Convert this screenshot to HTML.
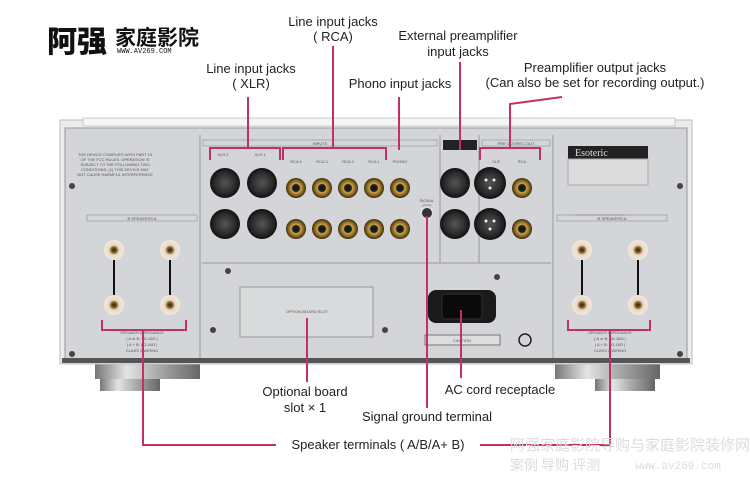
<!DOCTYPE html>
<html><head><meta charset="utf-8"><style>
html,body{margin:0;padding:0;background:#fff;}
svg{display:block}
.t{font-family:"Liberation Sans Narrow","Liberation Sans",sans-serif;font-size:13px;fill:#222;text-anchor:middle}
.s{font-family:"Liberation Sans",sans-serif;font-size:4px;fill:#555;text-anchor:middle}
.m{stroke:#c2306c;stroke-width:2;fill:none}
</style></head><body>
<svg width="750" height="496" viewBox="0 0 750 496" xmlns="http://www.w3.org/2000/svg">
<defs>
<radialGradient id="gold"><stop offset="0" stop-color="#111"/><stop offset="0.35" stop-color="#222"/><stop offset="0.45" stop-color="#c9a44a"/><stop offset="0.8" stop-color="#7a5a1a"/><stop offset="1" stop-color="#3a2a10"/></radialGradient>
<radialGradient id="xlr"><stop offset="0" stop-color="#555"/><stop offset="0.7" stop-color="#2a2a2a"/><stop offset="1" stop-color="#111"/></radialGradient>
<radialGradient id="spk"><stop offset="0" stop-color="#2a1a08"/><stop offset="0.3" stop-color="#8a6a30"/><stop offset="0.5" stop-color="#e8d8c4"/><stop offset="1" stop-color="#f4e8dc"/></radialGradient>
<linearGradient id="foot" x1="0" x2="1"><stop offset="0" stop-color="#777"/><stop offset="0.3" stop-color="#e4e4e4"/><stop offset="0.6" stop-color="#aaa"/><stop offset="1" stop-color="#666"/></linearGradient>
</defs>
<text x="47" y="52" font-family="'Noto Sans CJK SC',sans-serif" font-size="30" font-weight="900" fill="#111">阿强</text>
<text x="115" y="45" font-family="'Noto Sans CJK SC',sans-serif" font-size="21" font-weight="700" fill="#111">家庭影院</text>
<text x="117" y="53" font-family="'Liberation Mono',monospace" font-size="7" fill="#111">WWW.AV269.COM</text>
<rect x="95" y="363" width="105" height="16" fill="url(#foot)"/>
<rect x="100" y="379" width="60" height="12" fill="url(#foot)"/>
<rect x="555" y="363" width="105" height="16" fill="url(#foot)"/>
<rect x="595" y="379" width="60" height="12" fill="url(#foot)"/>
<rect x="60" y="120" width="632" height="244" fill="#ececee" stroke="#bbb"/>
<rect x="83" y="118" width="592" height="8" fill="#f5f5f6" stroke="#ccc"/>
<rect x="65" y="128" width="622" height="232" fill="#d3d5d8" stroke="#999"/>
<rect x="62" y="358" width="628" height="5" fill="#555"/>
<line x1="200" y1="135" x2="200" y2="358" stroke="#999"/>
<line x1="553" y1="135" x2="553" y2="358" stroke="#999"/>
<line x1="202" y1="263" x2="551" y2="263" stroke="#999"/>
<line x1="440" y1="135" x2="440" y2="263" stroke="#999"/>
<line x1="479" y1="135" x2="479" y2="263" stroke="#999"/>
<rect x="203" y="140" width="234" height="6" fill="none" stroke="#999" stroke-width="0.7"/>
<text x="320" y="145" class="s">INPUTS</text>
<rect x="443" y="140" width="34" height="10" fill="#222"/>
<rect x="482" y="140" width="68" height="6" fill="none" stroke="#999" stroke-width="0.7"/>
<text x="516" y="145" class="s">PRE OUT/REC OUT</text>
<rect x="568" y="146" width="80" height="13" fill="#222"/>
<text x="575" y="156" font-family="'Liberation Serif',serif" font-size="10" fill="#ddd">Esoteric</text>
<rect x="568" y="159" width="80" height="26" fill="#dcdcdc" stroke="#aaa"/>
<line x1="575" y1="215" x2="625" y2="215" stroke="#888"/>
<text x="115" y="156" class="s">THE DEVICE COMPLIES WITH PART 15</text>
<text x="115" y="161" class="s">OF THE FCC RULES. OPERATION IS</text>
<text x="115" y="166" class="s">SUBJECT TO THE FOLLOWING TWO</text>
<text x="115" y="171" class="s">CONDITIONS: (1) THIS DEVICE MAY</text>
<text x="115" y="176" class="s">NOT CAUSE HARMFUL INTERFERENCE</text>
<rect x="87" y="215" width="110" height="6" fill="none" stroke="#999" stroke-width="0.7"/>
<text x="142" y="220" class="s">B    SPEAKERS    A</text>
<rect x="557" y="215" width="110" height="6" fill="none" stroke="#999" stroke-width="0.7"/>
<text x="612" y="220" class="s">B    SPEAKERS    A</text>
<g fill="#444"><circle cx="72" cy="186" r="3"/><circle cx="680" cy="186" r="3"/><circle cx="72" cy="354" r="3"/><circle cx="680" cy="354" r="3"/><circle cx="228" cy="271" r="3"/><circle cx="497" cy="277" r="3"/><circle cx="213" cy="330" r="3"/><circle cx="385" cy="330" r="3"/></g>
<g>
<line x1="114" y1="258" x2="114" y2="298" stroke="#111" stroke-width="2"/><line x1="170" y1="258" x2="170" y2="298" stroke="#111" stroke-width="2"/>
<line x1="582" y1="258" x2="582" y2="298" stroke="#111" stroke-width="2"/><line x1="638" y1="258" x2="638" y2="298" stroke="#111" stroke-width="2"/>
<circle cx="114" cy="250" r="10" fill="url(#spk)"/><circle cx="170" cy="250" r="10" fill="url(#spk)"/>
<circle cx="114" cy="305" r="10" fill="url(#spk)"/><circle cx="170" cy="305" r="10" fill="url(#spk)"/>
<circle cx="582" cy="250" r="10" fill="url(#spk)"/><circle cx="638" cy="250" r="10" fill="url(#spk)"/>
<circle cx="582" cy="305" r="10" fill="url(#spk)"/><circle cx="638" cy="305" r="10" fill="url(#spk)"/>
</g>
<text x="142" y="334" class="s">SPEAKER IMPEDANCE</text><text x="142" y="340" class="s">( A or B: 4Ω-16Ω )</text><text x="142" y="346" class="s">( A + B: 8Ω-16Ω )</text><text x="142" y="352" class="s">CLASS 2 WIRING</text>
<text x="610" y="334" class="s">SPEAKER IMPEDANCE</text><text x="610" y="340" class="s">( A or B: 4Ω-16Ω )</text><text x="610" y="346" class="s">( A + B: 8Ω-16Ω )</text><text x="610" y="352" class="s">CLASS 2 WIRING</text>
<g fill="url(#xlr)">
<circle cx="225" cy="183" r="15"/><circle cx="262" cy="183" r="15"/><circle cx="225" cy="224" r="15"/><circle cx="262" cy="224" r="15"/>
<circle cx="455" cy="183" r="15"/><circle cx="455" cy="224" r="15"/>
<circle cx="490" cy="183" r="16"/><circle cx="490" cy="224" r="16"/>
</g>
<g fill="#eee"><circle cx="486" cy="180" r="1.5"/><circle cx="494" cy="180" r="1.5"/><circle cx="490" cy="188" r="1.5"/><circle cx="486" cy="221" r="1.5"/><circle cx="494" cy="221" r="1.5"/><circle cx="490" cy="229" r="1.5"/></g>
<text x="223" y="156" class="s">XLR 2</text><text x="260" y="156" class="s">XLR 1</text>
<text x="296" y="163" class="s">RCA 4</text><text x="322" y="163" class="s">RCA 3</text><text x="348" y="163" class="s">RCA 2</text><text x="374" y="163" class="s">RCA 1</text><text x="400" y="163" class="s">PHONO</text>
<text x="496" y="163" class="s">XLR</text><text x="522" y="163" class="s">RCA</text>
<g fill="url(#gold)">
<circle cx="296" cy="188" r="10"/><circle cx="322" cy="188" r="10"/><circle cx="348" cy="188" r="10"/><circle cx="374" cy="188" r="10"/><circle cx="400" cy="188" r="10"/>
<circle cx="296" cy="229" r="10"/><circle cx="322" cy="229" r="10"/><circle cx="348" cy="229" r="10"/><circle cx="374" cy="229" r="10"/><circle cx="400" cy="229" r="10"/>
<circle cx="522" cy="188" r="10"/><circle cx="522" cy="229" r="10"/>
</g>
<text x="427" y="202" class="s">SIGNAL</text><text x="427" y="207" class="s">GND</text>
<circle cx="427" cy="213" r="6" fill="#333" stroke="#ddd" stroke-width="2"/>
<rect x="240" y="287" width="133" height="50" fill="#d8dadc" stroke="#999"/>
<text x="307" y="313" class="s">OPTION BOARD SLOT</text>
<rect x="428" y="290" width="68" height="33" rx="8" fill="#1a1a1a"/>
<rect x="442" y="294" width="40" height="25" rx="3" fill="#0a0a0a" stroke="#333"/>
<rect x="425" y="335" width="75" height="10" fill="#ddd" stroke="#333" stroke-width="0.6"/>
<text x="462" y="342" class="s">CAUTION</text>
<circle cx="525" cy="340" r="6" fill="none" stroke="#222" stroke-width="1.5"/>
<path class="m" d="M210 160 V148 H280 V160 M283 160 V148 H386 V160 M480 160 V148 H540 V160"/>
<path class="m" d="M102 320 V330 H186 V320 M568 320 V330 H650 V320"/>
<path class="m" d="M333 46 V148"/>
<path class="m" d="M460 62 V150"/>
<path class="m" d="M248 97 V148"/>
<path class="m" d="M399 97 V150"/>
<path class="m" d="M562 97 L510 104 V148"/>
<path class="m" d="M427 216 V408"/>
<path class="m" d="M307 318 V382"/>
<path class="m" d="M461 310 V378"/>
<path class="m" d="M143 330 V445 H276"/>
<path class="m" d="M480 445 H610 V330"/>
<text x="333" y="26" class="t">Line input jacks</text><text x="333" y="41" class="t">( RCA)</text>
<text x="458" y="40" class="t">External preamplifier</text><text x="458" y="56" class="t">input jacks</text>
<text x="251" y="73" class="t">Line input jacks</text><text x="251" y="88" class="t">( XLR)</text>
<text x="400" y="88" class="t">Phono input jacks</text>
<text x="595" y="72" class="t">Preamplifier output jacks</text><text x="595" y="87" class="t">(Can also be set for recording output.)</text>
<text x="305" y="396" class="t">Optional board</text><text x="305" y="412" class="t">slot × 1</text>
<text x="500" y="394" class="t">AC cord receptacle</text>
<text x="427" y="421" class="t">Signal ground terminal</text>
<text x="378" y="449" class="t">Speaker terminals ( A/B/A+ B)</text>
<text x="510" y="450" font-family="'Noto Sans CJK SC',sans-serif" font-size="15" fill="#dcdcdc">阿强家庭影院导购与家庭影院装修网</text>
<text x="510" y="470" font-family="'Noto Sans CJK SC',sans-serif" font-size="14" fill="#dcdcdc">案例 导购 评测</text>
<text x="635" y="469" font-family="'Liberation Mono',monospace" font-size="11" fill="#dcdcdc">www.av269.com</text>
</svg>
</body></html>
